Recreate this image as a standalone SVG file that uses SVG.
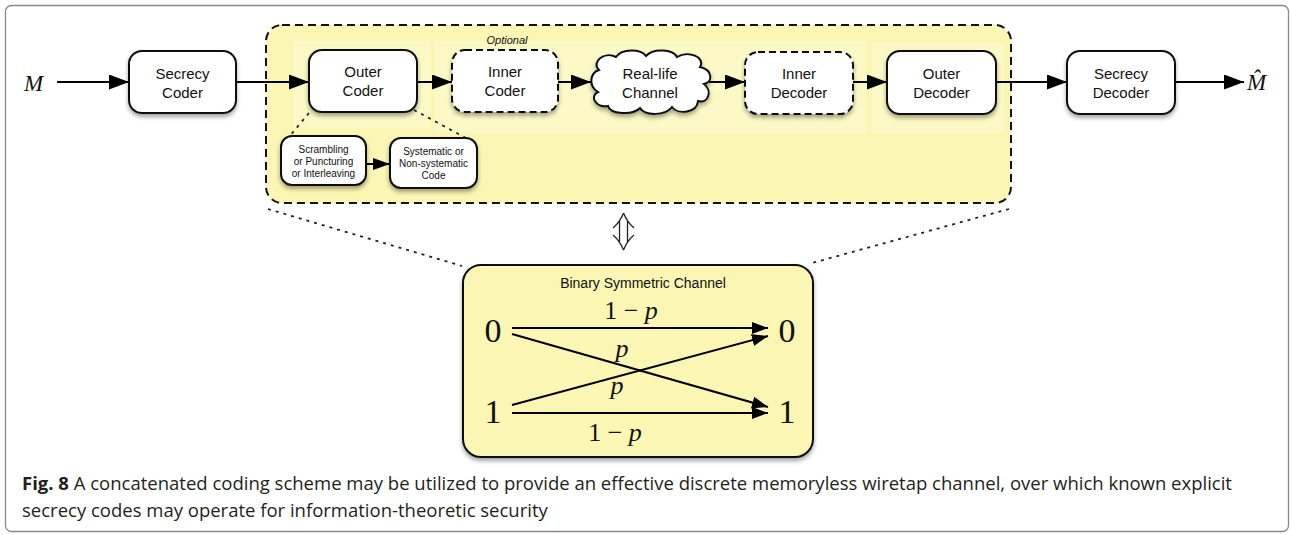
<svg xmlns="http://www.w3.org/2000/svg" width="1291" height="535" viewBox="0 0 1291 535">
<style>
.node{fill:#fff;stroke:#111;stroke-width:2}
.dnode{fill:#fff;stroke:#111;stroke-width:2;stroke-dasharray:7,4}
.lbl{font-family:"Liberation Sans",Arial,sans-serif;font-size:15px;fill:#111;text-anchor:middle}
.sm{font-family:"Liberation Sans",Arial,sans-serif;font-size:10px;fill:#111;text-anchor:middle}
.ln{fill:none;stroke:#000;stroke-width:2}
.dot{fill:none;stroke:#222;stroke-width:1.8;stroke-dasharray:3,5}
.math{font-family:"Liberation Serif","DejaVu Serif",serif;fill:#111}
.cap{font-family:"Open Sans","Noto Sans",sans-serif;font-size:18.5px;fill:#231f20}
</style>
<defs>
<filter id="sh" x="-20%" y="-20%" width="140%" height="150%">
<feDropShadow dx="0" dy="3" stdDeviation="2.2" flood-color="#000" flood-opacity="0.35"/>
</filter>
<marker id="ah" markerUnits="userSpaceOnUse" markerWidth="20" markerHeight="15" refX="20" refY="7.5" orient="auto">
<path d="M0,0 L20,7.5 L0,15 z" fill="#000"/>
</marker>
<marker id="as" markerUnits="userSpaceOnUse" markerWidth="17" markerHeight="12" refX="17" refY="6" orient="auto">
<path d="M0,0 L17,6 L0,12 z" fill="#000"/>
</marker>
<marker id="ab" markerUnits="userSpaceOnUse" markerWidth="16" markerHeight="12" refX="16" refY="6" orient="auto">
<path d="M0,0 L16,6 L0,12 z" fill="#000"/>
</marker>
</defs>

<rect x="5.5" y="5.5" width="1283" height="526" rx="6" fill="#fff" stroke="#8a8a8a" stroke-width="1.3"/>

<g id="container">
<rect x="266" y="25" width="745" height="178" rx="16" fill="#fbf6b3" stroke="#111" stroke-width="2" stroke-dasharray="8,5"/>
<rect x="293" y="41" width="137" height="87" fill="#fcf9c6"/>
<rect x="435" y="41" width="431" height="92" fill="#fcf9c6"/>
<rect x="872" y="43" width="132" height="90" fill="#fcf9c6"/>
</g>

<g id="connectors">
<line class="ln" x1="57" y1="82" x2="129" y2="82" marker-end="url(#ah)"/>
<line class="ln" x1="236" y1="82" x2="309" y2="82" marker-end="url(#ah)"/>
<line class="ln" x1="417" y1="82" x2="452" y2="82" stroke-width="2.6" marker-end="url(#ah)"/>
<line class="ln" x1="558" y1="82" x2="591" y2="82" marker-end="url(#ah)"/>
<line class="ln" x1="709" y1="82" x2="745" y2="82" marker-end="url(#ah)"/>
<line class="ln" x1="853" y1="82" x2="887" y2="82" marker-end="url(#ah)"/>
<line class="ln" x1="996" y1="82" x2="1067" y2="82" marker-end="url(#ah)"/>
<line class="ln" x1="1175" y1="82" x2="1244" y2="82" marker-end="url(#ah)"/>
<line class="ln" x1="366" y1="164" x2="390" y2="164" marker-end="url(#as)"/>
<line class="dot" x1="309" y1="113" x2="289" y2="137"/>
<line class="dot" x1="414" y1="110" x2="466" y2="138"/>
<line class="dot" x1="268" y1="209" x2="462" y2="266"/>
<line class="dot" x1="1009" y1="209" x2="812" y2="263"/>
<path d="M623.5,213 Q620,222 613,228 M623.5,213 Q627,222 634,228 M619.5,221 V242 M627.5,221 V242 M623.5,250 Q620,241 613,235 M623.5,250 Q627,241 634,235" fill="none" stroke="#222" stroke-width="1.3"/>
</g>

<g id="input-M"><text class="math" x="24" y="91" font-size="23" font-style="italic">M</text></g>
<g id="output-Mhat"><text class="math" x="1247" y="90" font-size="23" font-style="italic">M&#770;</text></g>

<g id="secrecy-coder">
<rect class="node" x="129" y="51" width="107" height="62" rx="13" filter="url(#sh)"/>
<text class="lbl" x="182.5" y="79">Secrecy</text>
<text class="lbl" x="182.5" y="98">Coder</text>
</g>

<g id="outer-coder">
<rect class="node" x="309" y="50" width="108" height="62" rx="13" filter="url(#sh)"/>
<text class="lbl" x="363" y="77">Outer</text>
<text class="lbl" x="363" y="96">Coder</text>
</g>

<g id="inner-coder">
<text x="507" y="44" font-family="Liberation Sans,Arial,sans-serif" font-size="11" font-style="italic" fill="#111" text-anchor="middle">Optional</text>
<rect class="dnode" x="452" y="50" width="106" height="62" rx="13" filter="url(#sh)"/>
<text class="lbl" x="505" y="77">Inner</text>
<text class="lbl" x="505" y="96">Coder</text>
</g>

<g id="real-life-channel">
<path class="node" filter="url(#sh)" d="M599,70 C591,62 604,51 616,57 C622,48 641,49 646,56 C653,48 673,49 677,57 C688,50 706,57 700,67 C713,70 713,82 704,84 C713,91 708,104 698,101 C697,113 678,115 672,107 C665,116 645,116 640,108 C632,116 610,114 608,106 C596,108 589,96 598,92 C588,86 590,73 599,70 Z"/>
<text class="lbl" x="650" y="79">Real-life</text>
<text class="lbl" x="650" y="98">Channel</text>
</g>

<g id="inner-decoder">
<rect class="dnode" x="745" y="52" width="108" height="62" rx="13" filter="url(#sh)"/>
<text class="lbl" x="799" y="79">Inner</text>
<text class="lbl" x="799" y="98">Decoder</text>
</g>

<g id="outer-decoder">
<rect class="node" x="887" y="51" width="109" height="63" rx="13" filter="url(#sh)"/>
<text class="lbl" x="941.5" y="79">Outer</text>
<text class="lbl" x="941.5" y="98">Decoder</text>
</g>

<g id="secrecy-decoder">
<rect class="node" x="1067" y="51" width="108" height="63" rx="13" filter="url(#sh)"/>
<text class="lbl" x="1121" y="79">Secrecy</text>
<text class="lbl" x="1121" y="98">Decoder</text>
</g>

<g id="scrambling">
<rect class="node" x="281" y="136" width="85" height="49" rx="11" filter="url(#sh)"/>
<text class="sm" x="323.5" y="153">Scrambling</text>
<text class="sm" x="323.5" y="165">or Puncturing</text>
<text class="sm" x="323.5" y="177">or Interleaving</text>
</g>

<g id="systematic">
<rect class="node" x="390" y="138" width="87" height="50" rx="11" filter="url(#sh)"/>
<text class="sm" x="433.5" y="155">Systematic or</text>
<text class="sm" x="433.5" y="167">Non-systematic</text>
<text class="sm" x="433.5" y="179">Code</text>
</g>

<g id="bsc">
<rect x="463" y="265" width="350" height="192" rx="18" fill="#fbf6b3" stroke="#111" stroke-width="2" filter="url(#sh)"/>
<text x="643" y="288" font-family="Liberation Sans,Arial,sans-serif" font-size="14" fill="#111" text-anchor="middle">Binary Symmetric Channel</text>
<text class="math" x="493" y="342" font-size="34" text-anchor="middle">0</text>
<text class="math" x="493" y="423" font-size="34" text-anchor="middle">1</text>
<text class="math" x="787" y="342" font-size="34" text-anchor="middle">0</text>
<text class="math" x="787" y="423" font-size="34" text-anchor="middle">1</text>
<line class="ln" x1="512" y1="328" x2="768" y2="328" marker-end="url(#ab)"/>
<line class="ln" x1="512" y1="413" x2="768" y2="413" marker-end="url(#ab)"/>
<line class="ln" x1="512" y1="334" x2="768" y2="407" marker-end="url(#ab)"/>
<line class="ln" x1="512" y1="405" x2="768" y2="336" marker-end="url(#ab)"/>
<text class="math" x="631" y="319" font-size="26" text-anchor="middle">1 − <tspan font-style="italic">p</tspan></text>
<text class="math" x="622" y="357" font-size="26" font-style="italic" text-anchor="middle">p</text>
<text class="math" x="617" y="394" font-size="26" font-style="italic" text-anchor="middle">p</text>
<text class="math" x="615" y="441" font-size="26" text-anchor="middle">1 − <tspan font-style="italic">p</tspan></text>
</g>

<g id="caption">
<text class="cap" x="22" y="490"><tspan font-weight="bold">Fig. 8</tspan> A concatenated coding scheme may be utilized to provide an effective discrete memoryless wiretap channel, over which known explicit</text>
<text class="cap" x="22" y="517">secrecy codes may operate for information-theoretic security</text>
</g>
</svg>
